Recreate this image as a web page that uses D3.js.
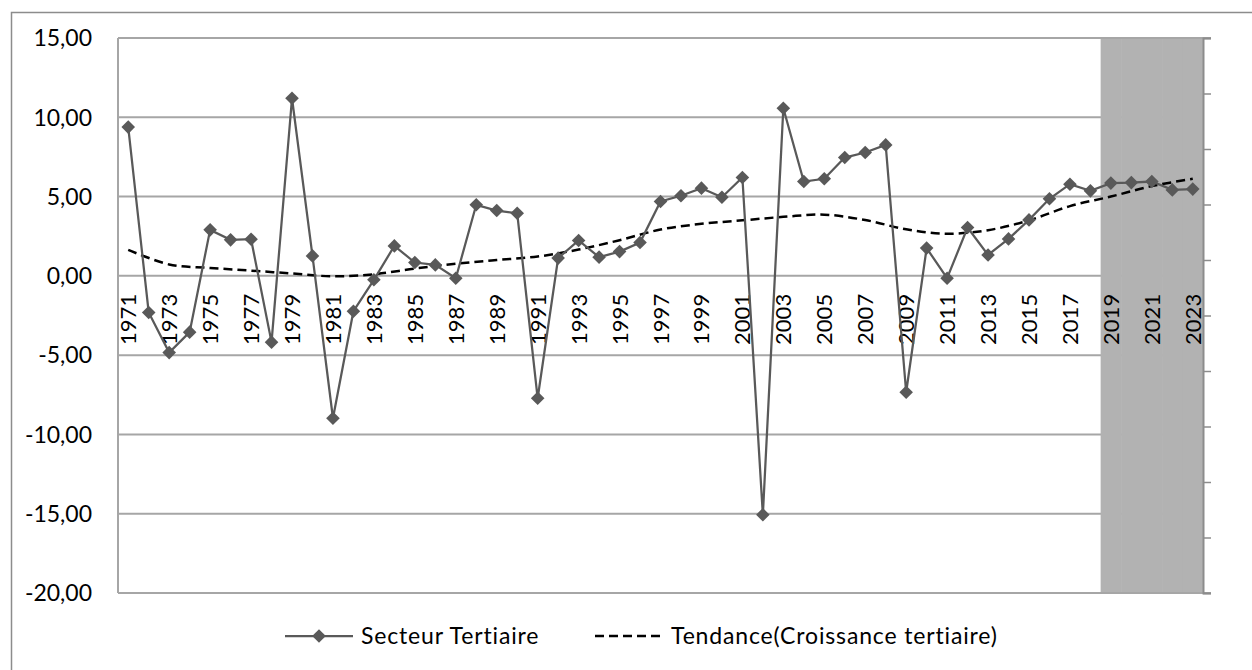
<!DOCTYPE html>
<html>
<head>
<meta charset="utf-8">
<script src="https://cdn.jsdelivr.net/npm/d3@7"></script>
<style>
  body { margin: 0; background: #fff; }
  svg { display: block; font-family: Lato, "Open Sans", sans-serif; }
</style>
</head>
<body>
<div id="chart"></div>
<script>
// years 1971 - 2023
let years = d3.range(1971, 2024);

// Secteur Tertiaire (croissance, %)
let tertiaire = [
  9.38, -2.31, -4.84, -3.55, 2.90, 2.27, 2.31, -4.18, 11.20, 1.26,
  -8.98, -2.23, -0.25, 1.89, 0.84, 0.69, -0.15, 4.48, 4.12, 3.95,
  -7.72, 1.12, 2.23, 1.18, 1.53, 2.10, 4.69, 5.05, 5.53, 4.96,
  6.20, -15.07, 10.57, 5.95, 6.12, 7.46, 7.78, 8.26, -7.34, 1.75,
  -0.15, 3.05, 1.32, 2.33, 3.53, 4.86, 5.78, 5.36, 5.85, 5.88,
  5.95, 5.42, 5.47
];

// Tendance
let trendYears = [1971, 1973, 1975, 1977, 1979, 1981, 1983, 1985, 1987, 1989,
  1991, 1993, 1995, 1997, 1999, 2001, 2003, 2005, 2007, 2009,
  2011, 2013, 2015, 2017, 2019, 2021, 2023];
let trendValues = [1.64, 0.72, 0.50, 0.33, 0.15, -0.03, 0.10, 0.46, 0.76, 1.00,
  1.22, 1.66, 2.25, 2.92, 3.28, 3.50, 3.72, 3.86, 3.52, 2.94,
  2.66, 2.88, 3.50, 4.40, 5.00, 5.66, 6.12];

// shaded projection years (secondary axis, full height)
let shadedYears = [2019, 2020, 2021, 2022, 2023];
let shadedValue = 1;

let yTicks = [15, 10, 5, 0, -5, -10, -15, -20];
let xLabelYears = years.filter(d => (d - 1971) % 2 === 0);

let legendLabels = ["Secteur Tertiaire", "Tendance(Croissance tertiaire)"];

const width = 1252, height = 670;
const plot = { left: 118, right: 1203, top: 38, bottom: 593 };

const fr = d3.formatLocale({ decimal: ",", thousands: " ", grouping: [3], currency: ["", " €"], minus: "-" });
const fmt = fr.format(".2f");

const svg = d3.select("#chart").append("svg")
  .attr("width", width)
  .attr("height", height);

// chart area border
svg.append("rect")
  .attr("x", 11.5).attr("y", 12.5)
  .attr("width", 1260).attr("height", 680)
  .attr("fill", "none")
  .attr("stroke", "#8c8c8c")
  .attr("stroke-width", 1.5);

const x = d3.scaleBand()
  .domain(years)
  .range([plot.left, plot.right]);
const cx = d => x(d) + x.bandwidth() / 2;

const y = d3.scaleLinear()
  .domain([-20, 15])
  .range([plot.bottom, plot.top]);

const y2 = d3.scaleLinear()
  .domain([0, 1])
  .range([plot.bottom, plot.top]);

// horizontal gridlines
svg.append("g")
  .selectAll("line")
  .data(yTicks)
  .join("line")
  .attr("x1", plot.left)
  .attr("x2", d => (d === 15 || d === -20) ? plot.right + 8 : plot.right)
  .attr("y1", d => y(d))
  .attr("y2", d => y(d))
  .attr("stroke", "#a6a6a6")
  .attr("stroke-width", 2);

// shaded bar on secondary axis
svg.append("g")
  .selectAll("rect")
  .data(shadedYears)
  .join("rect")
  .attr("x", d => x(d))
  .attr("width", x.bandwidth() + 0.5)
  .attr("y", y2(shadedValue) + 1)
  .attr("height", y2(0) - y2(shadedValue) - 2)
  .attr("fill", "#b2b2b2");

// left axis line
svg.append("line")
  .attr("x1", plot.left).attr("x2", plot.left)
  .attr("y1", plot.top).attr("y2", plot.bottom)
  .attr("stroke", "#a6a6a6")
  .attr("stroke-width", 2);

// right (secondary) axis, ticks without labels
const rightAxis = svg.append("g")
  .attr("transform", `translate(${plot.right},0)`)
  .call(d3.axisRight(y2).ticks(10).tickSize(8).tickFormat(""));
rightAxis.select(".domain").attr("stroke", "#8c8c8c").attr("stroke-width", 2);
rightAxis.selectAll(".tick line").attr("stroke", "#8c8c8c").attr("stroke-width", 1.5);

// y labels
svg.append("g")
  .selectAll("text")
  .data(yTicks)
  .join("text")
  .attr("x", 92)
  .attr("y", d => y(d))
  .attr("dy", "0.36em")
  .attr("text-anchor", "end")
  .attr("font-size", 23)
  .attr("fill", "#000")
  .text(d => fmt(d));

// x labels, rotated, hanging under the zero line
svg.append("g")
  .selectAll("text")
  .data(xLabelYears)
  .join("text")
  .attr("transform", d => `translate(${cx(d) + 8},${y(0) + 18}) rotate(-90)`)
  .attr("text-anchor", "end")
  .attr("font-size", 22)
  .attr("fill", "#000")
  .text(d => d);

// trend line
const trendLine = d3.line()
  .x(d => cx(d[0]))
  .y(d => y(d[1]))
  .curve(d3.curveCatmullRom);

svg.append("path")
  .datum(d3.zip(trendYears, trendValues))
  .attr("d", trendLine)
  .attr("fill", "none")
  .attr("stroke", "#000")
  .attr("stroke-width", 2.5)
  .attr("stroke-dasharray", "9,5");

// main series
const seriesColor = "#595959";
const line = d3.line()
  .x(d => cx(d[0]))
  .y(d => y(d[1]));

svg.append("path")
  .datum(d3.zip(years, tertiaire))
  .attr("d", line)
  .attr("fill", "none")
  .attr("stroke", seriesColor)
  .attr("stroke-width", 2.25);

const diamond = r => `M0,${-r}L${r},0L0,${r}L${-r},0Z`;

svg.append("g")
  .selectAll("path")
  .data(d3.zip(years, tertiaire))
  .join("path")
  .attr("transform", d => `translate(${cx(d[0])},${y(d[1])})`)
  .attr("d", diamond(6.8))
  .attr("fill", seriesColor);

// legend
const legend = svg.append("g")
  .attr("font-size", 23)
  .attr("letter-spacing", "0.85px");
const ly = 636;

legend.append("line")
  .attr("x1", 285).attr("x2", 353)
  .attr("y1", ly).attr("y2", ly)
  .attr("stroke", seriesColor)
  .attr("stroke-width", 2.25);
legend.append("path")
  .attr("transform", `translate(319,${ly})`)
  .attr("d", diamond(6.8))
  .attr("fill", seriesColor);
legend.append("text")
  .attr("x", 361).attr("y", ly)
  .attr("dy", "0.36em")
  .text(legendLabels[0]);

legend.append("line")
  .attr("x1", 595).attr("x2", 660)
  .attr("y1", ly).attr("y2", ly)
  .attr("stroke", "#000")
  .attr("stroke-width", 2.5)
  .attr("stroke-dasharray", "9,5");
legend.append("text")
  .attr("x", 671).attr("y", ly)
  .attr("dy", "0.36em")
  .text(legendLabels[1]);
</script>
</body>
</html>
